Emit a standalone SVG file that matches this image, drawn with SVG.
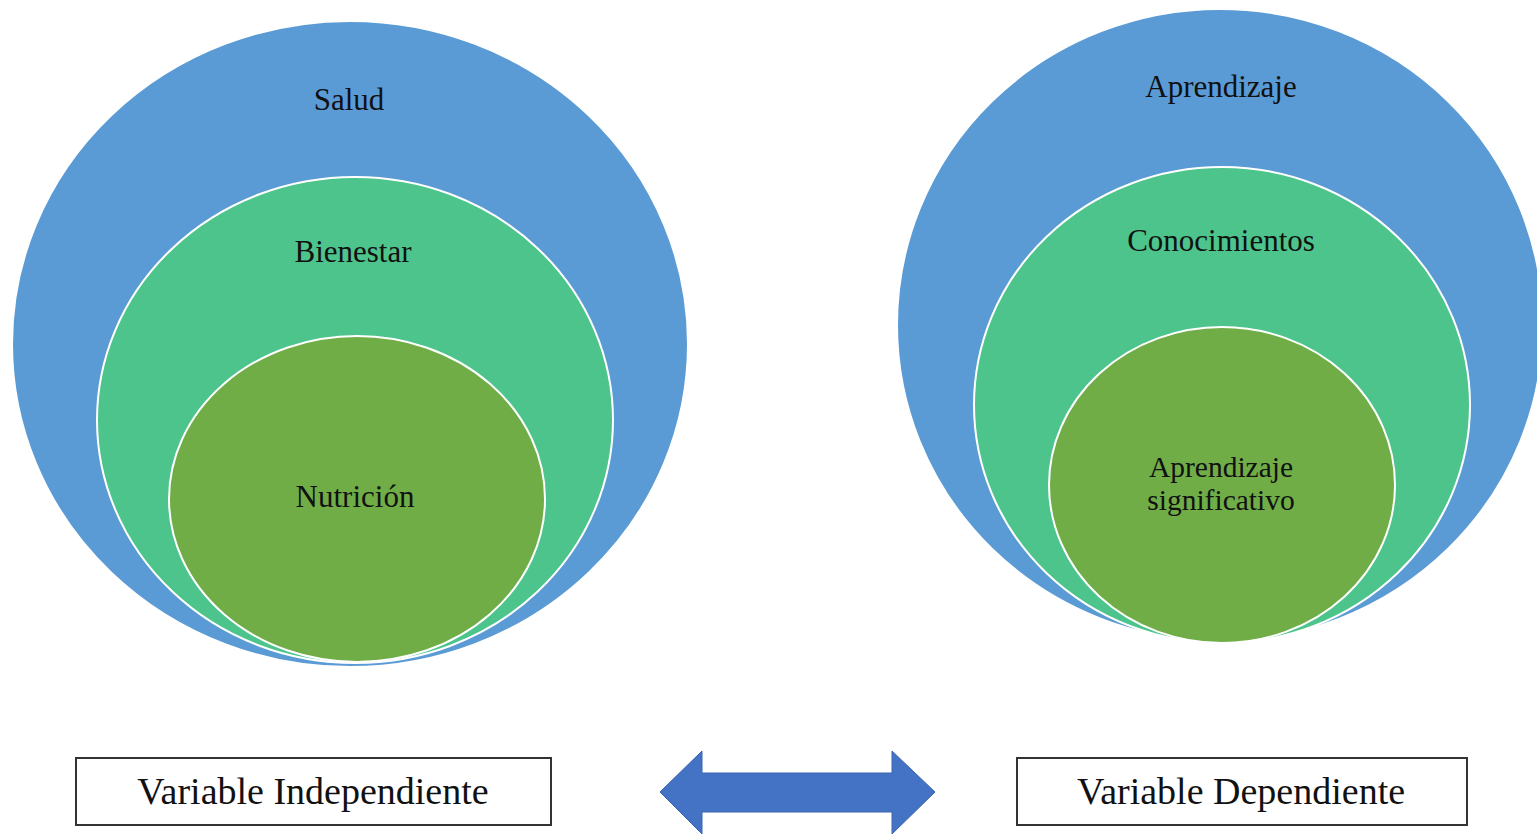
<svg xmlns="http://www.w3.org/2000/svg" width="1537" height="834" viewBox="0 0 1537 834">
<style>
.outer{fill:#5B9BD5;stroke:#ffffff;stroke-width:2}
.mid{fill:#4DC48C;stroke:#ffffff;stroke-width:2}
.inner{fill:#70AD47;stroke:#ffffff;stroke-width:2}
.lbl{font-family:"Liberation Serif","Times New Roman",serif;font-size:31px;fill:#111111;text-anchor:middle}
.sm{font-size:29.5px}
.box{fill:#ffffff;stroke:#333333;stroke-width:2}
.btxt{font-family:"Liberation Serif","Times New Roman",serif;font-size:38px;fill:#111111;text-anchor:middle}
</style>
<rect width="1537" height="834" fill="#ffffff"/>
<g id="salud"><ellipse class="outer" cx="350" cy="344" rx="338" ry="323"/><text class="lbl" x="349" y="110">Salud</text></g>
<g id="bienestar"><ellipse class="mid" cx="355" cy="420" rx="258" ry="243"/><text class="lbl" x="353" y="262">Bienestar</text></g>
<g id="nutricion"><ellipse class="inner" cx="357" cy="499" rx="188" ry="163"/><text class="lbl" x="355" y="507">Nutrición</text></g>
<g id="aprendizaje"><ellipse class="outer" cx="1220" cy="325" rx="323" ry="316"/><text class="lbl" x="1221" y="97">Aprendizaje</text></g>
<g id="conocimientos"><ellipse class="mid" cx="1222" cy="405" rx="248" ry="238"/><text class="lbl" x="1221" y="251">Conocimientos</text></g>
<g id="aprendizaje-significativo"><ellipse class="inner" cx="1222" cy="485" rx="173" ry="158"/><text class="lbl sm" x="1221" y="477">Aprendizaje</text><text class="lbl sm" x="1221" y="510">significativo</text></g>
<g id="var-indep"><rect class="box" x="76" y="758" width="475" height="67"/><text class="btxt" x="313" y="804">Variable Independiente</text></g>
<g id="var-dep"><rect class="box" x="1017" y="758" width="450" height="67"/><text class="btxt" x="1241" y="804">Variable Dependiente</text></g>
<g id="connectors"><polygon points="660,792 702,751 702,773 892,773 892,751 935,792 892,834 892,812 702,812 702,834" fill="#4472C4" stroke="#3A64AE" stroke-width="1"/></g>
</svg>
